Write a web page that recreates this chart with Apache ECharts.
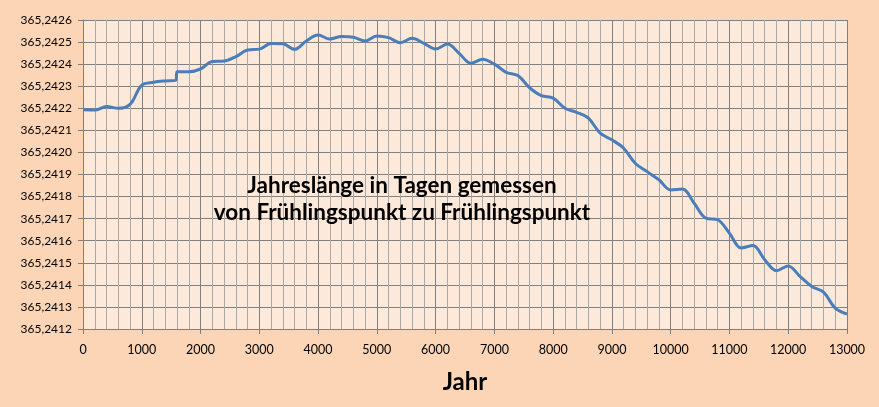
<!DOCTYPE html>
<html>
<head>
<meta charset="utf-8">
<script src="https://cdn.jsdelivr.net/npm/echarts@6/dist/echarts.min.js"></script>
<style>
html,body{margin:0;padding:0;background:#fbd5b5;}
#c{width:879px;height:407px;}
</style>
</head>
<body>
<div id="c"></div>
<script>
const years = [0,200,400,600,800,1000,1200,1400,1580,1600,1800,2000,2200,2400,2600,2800,3000,3200,3400,3600,3800,4000,4200,4400,4600,4800,5000,5200,5400,5600,5800,6000,6200,6400,6600,6800,7000,7200,7400,7600,7800,8000,8200,8400,8600,8800,9000,9200,9400,9600,9800,10000,10200,10400,10600,10800,11000,11200,11400,11600,11800,12000,12200,12400,12600,12800,13000];
const yearLength = [365.242193,365.242192,365.242208,365.242200,365.242218,365.242305,365.242318,365.242324,365.242327,365.242366,365.242366,365.242378,365.242412,365.242414,365.242434,365.242464,365.242468,365.242493,365.242492,365.242467,365.242505,365.242532,365.242514,365.242525,365.242522,365.242505,365.242528,365.242520,365.242497,365.242517,365.242494,365.242469,365.242491,365.242449,365.242404,365.242422,365.242400,365.242363,365.242348,365.242293,365.242257,365.242246,365.242200,365.242182,365.242155,365.242087,365.242057,365.242019,365.241950,365.241913,365.241876,365.241830,365.241834,365.241770,365.241702,365.241695,365.241634,365.241567,365.241578,365.241514,365.241464,365.241486,365.241438,365.241393,365.241367,365.241295,365.241268];
const titleLines = ['Jahreslänge in Tagen gemessen','von Frühlingspunkt zu Frühlingspunkt'];
const xAxisName = 'Jahr';

const chart = echarts.init(document.getElementById('c'));
chart.setOption({
  backgroundColor:'#fbd5b5',
  animation:false,
  title:{
    text:titleLines.join('\n'),
    left:397, top:167, textAlign:'center',
    textStyle:{fontFamily:'Lato',fontWeight:'bold',fontSize:22.5,lineHeight:27,color:'#000'}
  },
  grid:{left:83,right:32,top:20,bottom:78,show:true,backgroundColor:'#fde9d9',borderWidth:0},
  xAxis:{
    type:'value',min:0,max:13000,interval:1000,
    name:xAxisName,nameLocation:'middle',nameGap:41,
    nameTextStyle:{fontFamily:'Lato',fontWeight:'bold',fontSize:24,color:'#000'},
    axisLine:{show:true,onZero:false,lineStyle:{color:'#808080',width:1}},
    axisTick:{show:true,length:5,lineStyle:{color:'#808080'}},
    axisLabel:{fontFamily:'Lato',fontSize:12.5,color:'#000',margin:14,formatter:v=>String(v)},
    splitLine:{show:true,lineStyle:{color:'#808080',width:1}},
    minorTick:{show:false,splitNumber:5},
    minorSplitLine:{show:true,lineStyle:{color:'#a9a9a9',width:1}}
  },
  yAxis:{
    type:'value',min:365.2412,max:365.2426,interval:0.0001,
    axisLine:{show:true,lineStyle:{color:'#808080',width:1}},
    axisTick:{show:true,length:5,lineStyle:{color:'#808080'}},
    axisLabel:{fontFamily:'Lato',fontSize:12,color:'#000',margin:11,
      formatter:v=>v.toFixed(4).replace('.',',')},
    splitLine:{show:true,lineStyle:{color:'#808080',width:1}}
  },
  series:[{
    type:'line',
    data:years.map((y,i)=>[y,yearLength[i]]),
    smooth:0.35,
    showSymbol:false,
    lineStyle:{color:'#4a7ebb',width:3},
    z:5
  }]
});
</script>
</body>
</html>
